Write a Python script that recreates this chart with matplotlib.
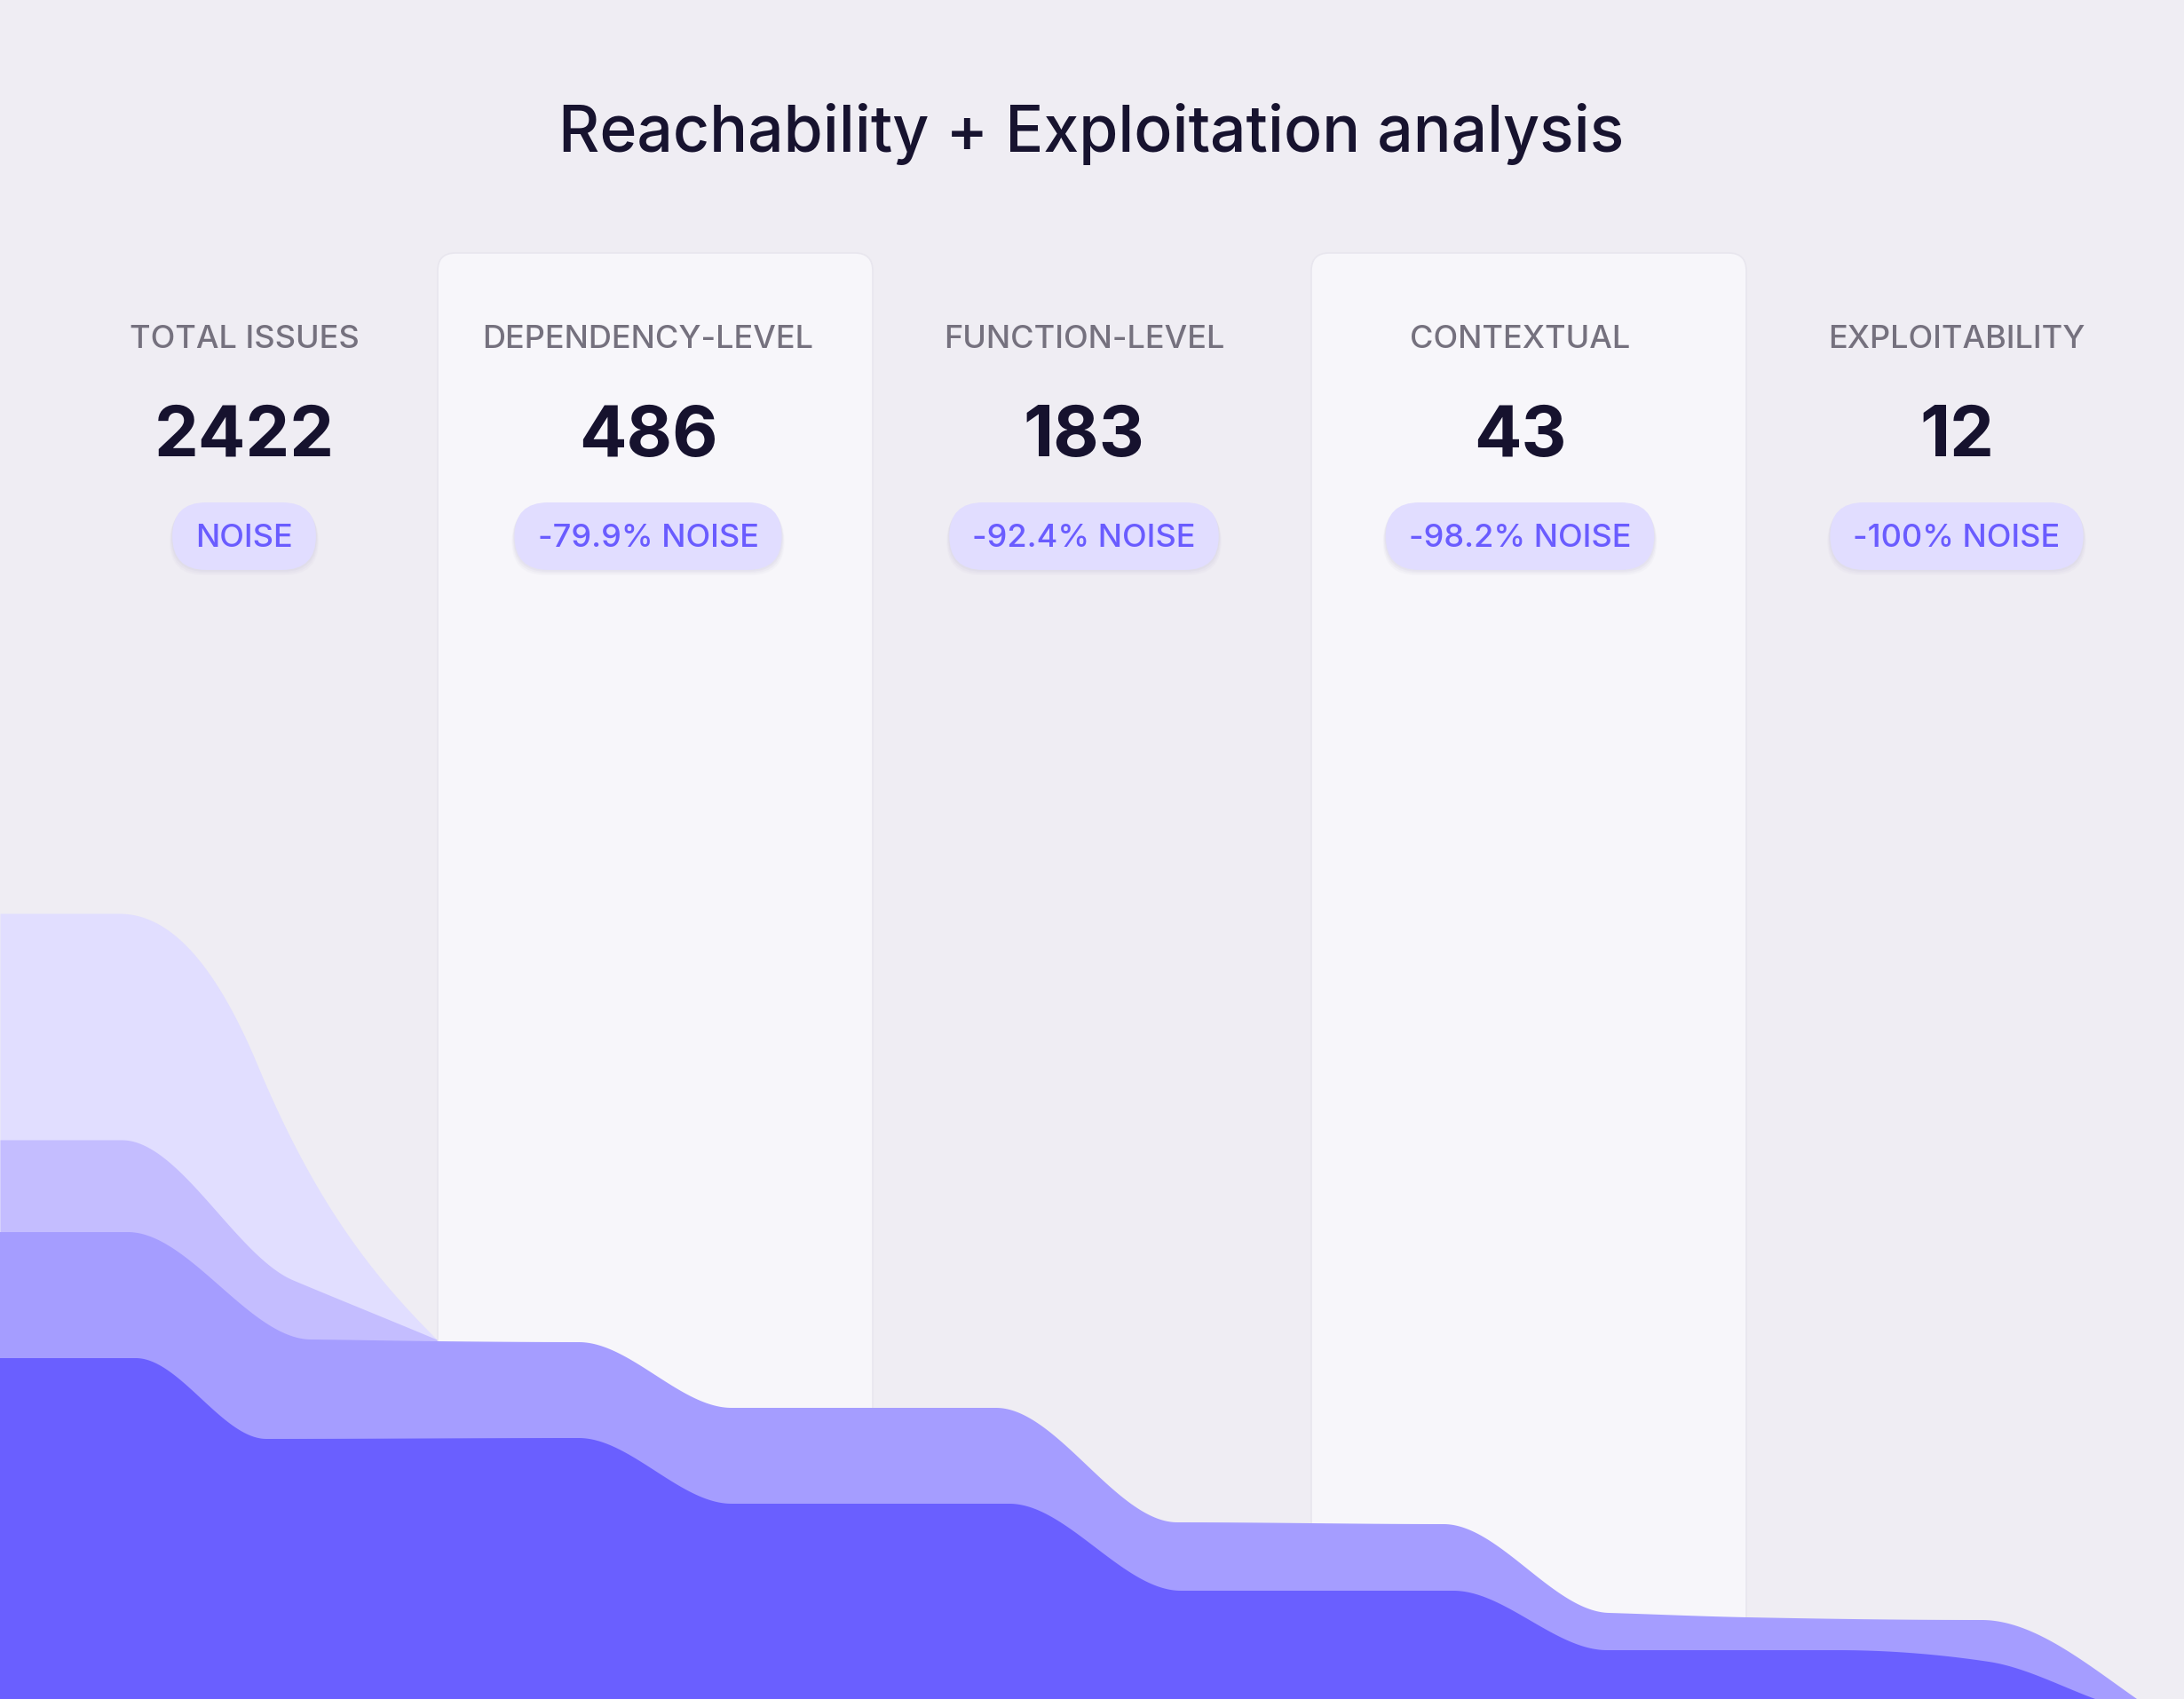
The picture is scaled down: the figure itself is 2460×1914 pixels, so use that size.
import numpy as np
import matplotlib
matplotlib.use("Agg")
import matplotlib.pyplot as plt
from matplotlib.patches import FancyBboxPatch

# ---------------- data ----------------
TITLE = "Reachability + Exploitation analysis"
stages = ["TOTAL ISSUES", "DEPENDENCY-LEVEL", "FUNCTION-LEVEL", "CONTEXTUAL", "EXPLOITABILITY"]
counts = [2422, 486, 183, 43, 12]
noise_labels = ["NOISE", "-79.9% NOISE", "-92.4% NOISE", "-98.2% NOISE", "-100% NOISE"]

# decorative funnel bands: boundary knots (x, level) and the slope at each knot
band_a_x = [0, 134, 290, 492]
band_a_y = [1029, 1029, 1200, 1509]
band_a_m = [0, 0, 2.4, 1.0]
band_b_x = [0, 137, 330, 492]
band_b_y = [1284, 1284, 1442, 1509]
band_b_m = [0, 0, 0.42, 0.42]
band_c_x = [0, 144, 350, 492, 652, 824, 1122, 1326, 1626, 1812, 1968, 2232, 2407, 2460]
band_c_y = [1388, 1388, 1509, 1511, 1512, 1586, 1586, 1715, 1717, 1817, 1822, 1825, 1914, 1914]
band_c_m = [0, 0, 0.01, 0.01, 0, 0, 0, 0, 0, 0.03, 0.02, 0, 0.7, 0]
band_d_x = [0, 153, 300, 652, 824, 1137, 1330, 1637, 1810, 2069, 2240, 2360, 2460]
band_d_y = [1530, 1530, 1621, 1620, 1694, 1694, 1792, 1792, 1859, 1859, 1872, 1914, 1914]
band_d_m = [0, 0, 0, 0, 0, 0, 0, 0, 0, 0.0, 0.15, 0.37, 0]
band_colors = ["#e1deff", "#c4bdff", "#a59dff", "#6a5fff"]

# ---------------- layout ----------------
W, H = 2460, 1914
BG = "#efedf3"
PANEL = "#f7f6fa"
col_w = 492
col_centers = [275, 730, 1221, 1712, 2204]
highlight_cols = [1, 3]

plt.rcParams["font.family"] = ["Inter", "DejaVu Sans"]

fig = plt.figure(figsize=(W / 100, H / 100), dpi=100)
fig.patch.set_facecolor(BG)
ax = fig.add_axes([0, 0, 1, 1])
ax.set_xlim(0, W)
ax.set_ylim(H, 0)
ax.axis("off")
ax.set_facecolor(BG)

# highlighted panels
for c in highlight_cols:
    x0 = c * col_w
    p = FancyBboxPatch((x0 + 1, 285), col_w - 2, H, boxstyle="round,pad=0,rounding_size=20",
                       facecolor=PANEL, edgecolor="#e8e6ee", linewidth=1.2, zorder=1)
    ax.add_patch(p)


def hermite(xs, ys, ms, n=80):
    px, py = [], []
    for i in range(len(xs) - 1):
        t = np.linspace(0, 1, n)
        dx = xs[i + 1] - xs[i]
        h00 = 2 * t**3 - 3 * t**2 + 1
        h10 = t**3 - 2 * t**2 + t
        h01 = -2 * t**3 + 3 * t**2
        h11 = t**3 - t**2
        px.append(xs[i] + dx * t)
        py.append(h00 * ys[i] + h10 * dx * ms[i] + h01 * ys[i + 1] + h11 * dx * ms[i + 1])
    return np.concatenate(px), np.concatenate(py)


bands = [(band_a_x, band_a_y, band_a_m), (band_b_x, band_b_y, band_b_m),
         (band_c_x, band_c_y, band_c_m), (band_d_x, band_d_y, band_d_m)]
for k, (bx, by, bm) in enumerate(bands):
    px, py = hermite(bx, by, bm)
    ax.fill_between(px, py, H + 50, color=band_colors[k], linewidth=0, zorder=2 + k)

# title
ax.text(W / 2 - 1, 171, TITLE, ha="center", va="baseline", fontsize=51.5, fontweight="medium",
        color="#17132f", zorder=10)

renderer = fig.canvas.get_renderer()
for i in range(len(stages)):
    cx = col_centers[i]
    ax.text(cx, 383, stages[i], ha="center", va="center", fontsize=26, color="#75717e",
            fontweight="medium", zorder=10)
    ax.text(cx, 493, f"{counts[i]}", ha="center", va="center", fontsize=57, fontweight="bold",
            color="#16122e", zorder=10)
    t = ax.text(cx, 607, noise_labels[i], ha="center", va="center", fontsize=26, color="#6a5cff",
                fontweight="medium", zorder=12)
    bb = t.get_window_extent(renderer=renderer)
    bw = bb.width + 52
    bh = 76
    # soft shadow
    for off, a in [(6, 0.10), (4, 0.14), (2, 0.18)]:
        sh = FancyBboxPatch((cx - bw / 2 - off / 2, 604 - bh / 2 + off), bw + off, bh,
                            boxstyle=f"round,pad=0,rounding_size={bh/2}",
                            facecolor="#c9c5dc", edgecolor="none", alpha=a, zorder=9)
        ax.add_patch(sh)
    pill = FancyBboxPatch((cx - bw / 2, 604 - bh / 2), bw, bh,
                          boxstyle=f"round,pad=0,rounding_size={bh/2}",
                          facecolor="#e1ddff", edgecolor="none", zorder=11)
    ax.add_patch(pill)

fig.savefig("out.png", dpi=100, facecolor=BG)
